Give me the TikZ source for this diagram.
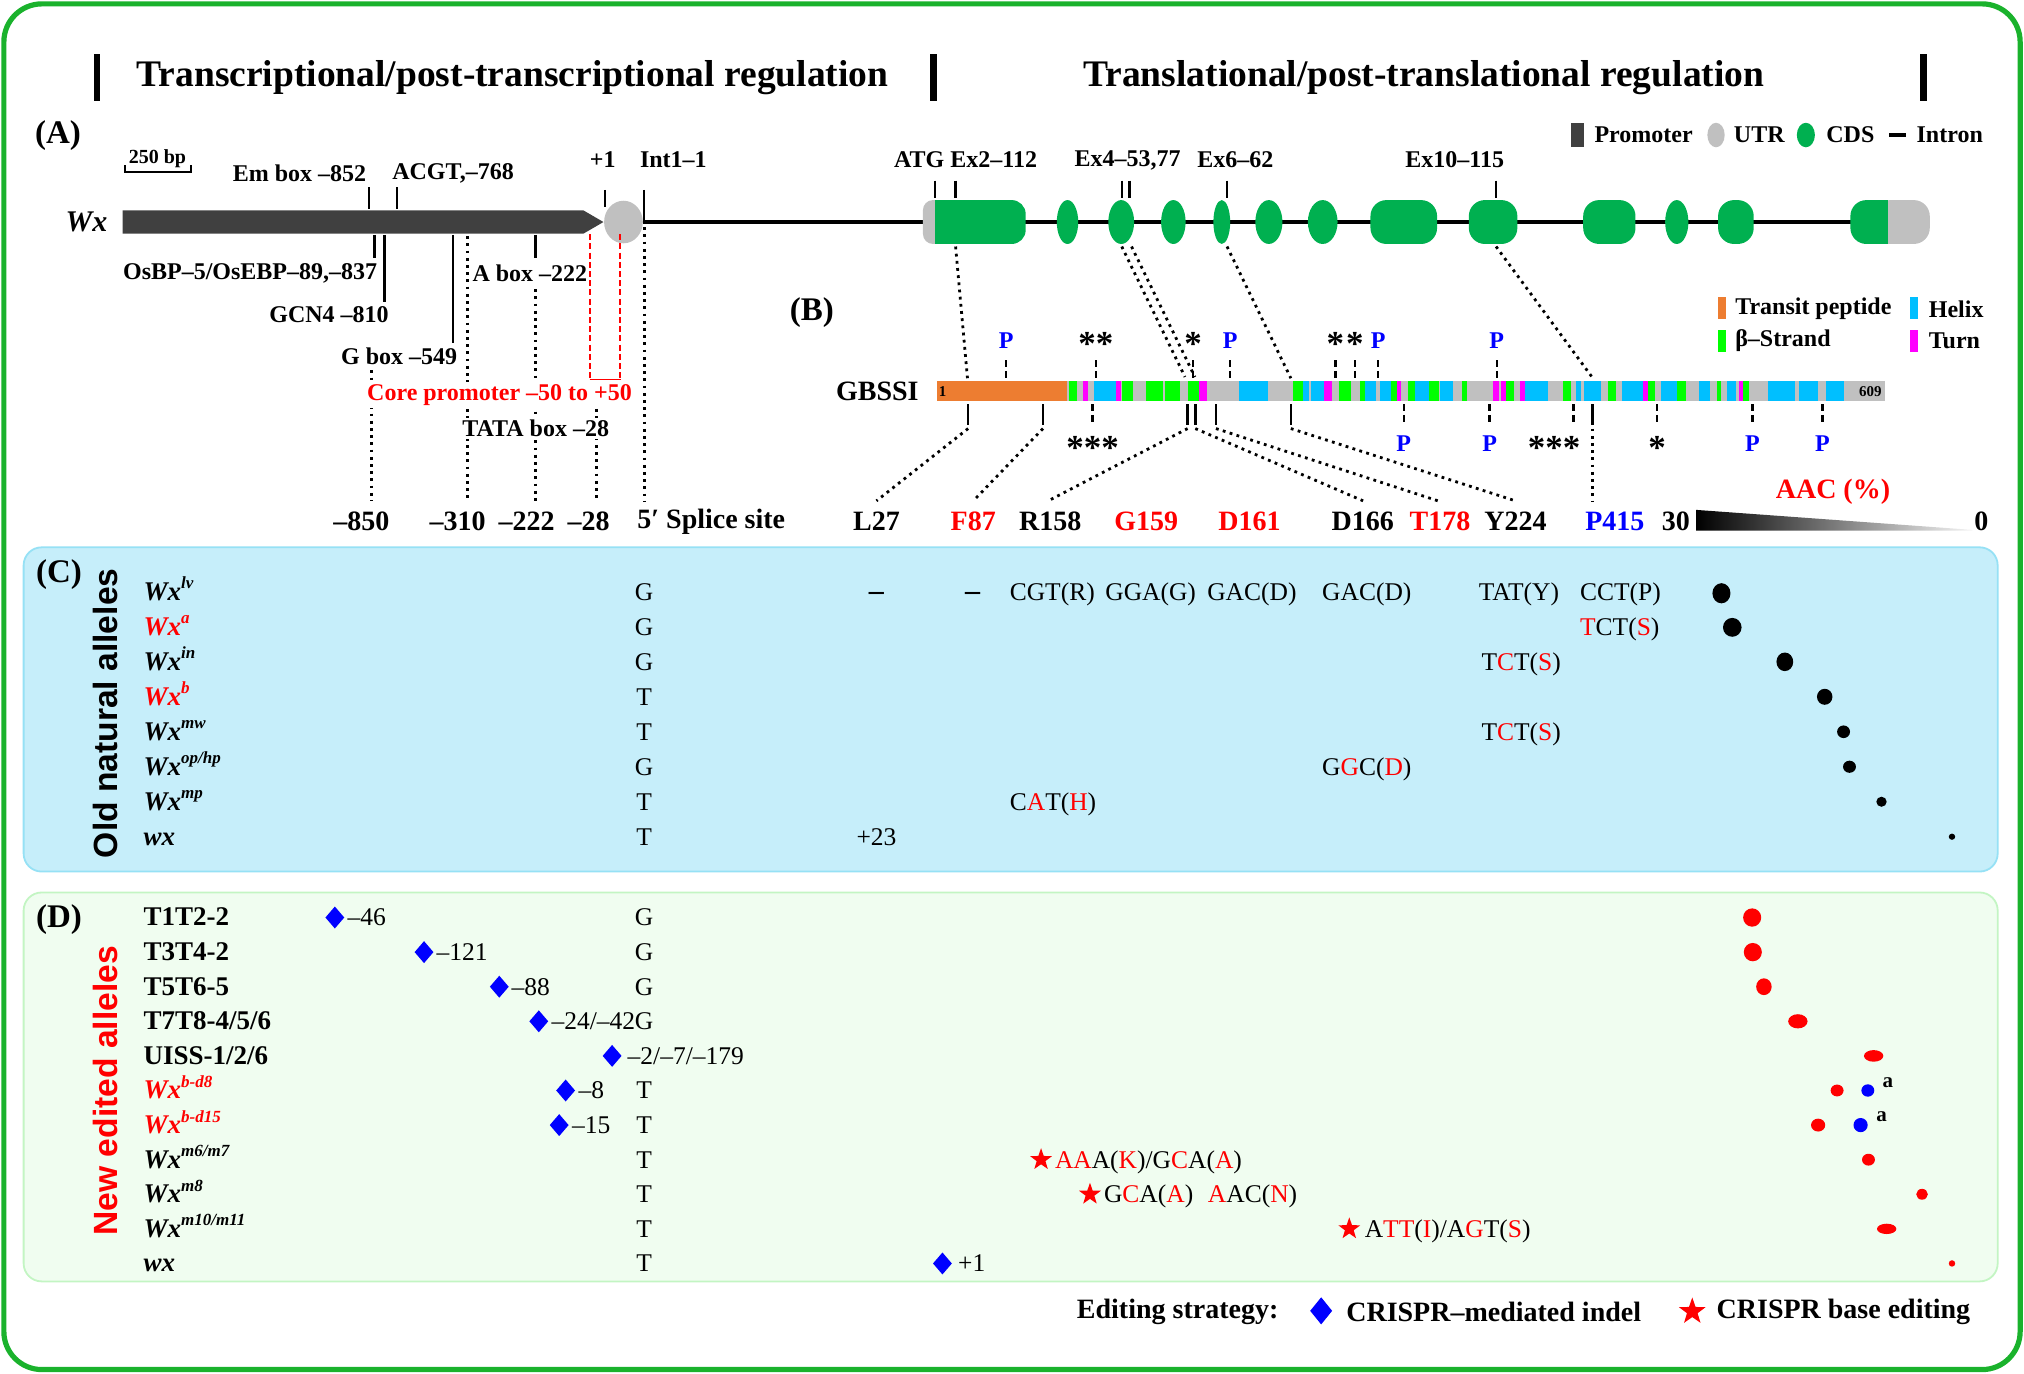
\documentclass[tikz,border=0pt]{standalone}
\usepackage{fontspec}
\setmainfont{Liberation Serif}
\newfontfamily\sansfam{Liberation Sans}
\usetikzlibrary{shapes.geometric}
\newcommand\myfs[1]{\fontsize{#1pt}{#1pt}\selectfont}
\definecolor{cds}{RGB}{0,176,80}
\definecolor{utr}{RGB}{192,192,192}
\definecolor{prom}{RGB}{64,64,64}
\definecolor{tp}{RGB}{237,125,49}
\definecolor{hx}{RGB}{0,191,255}
\definecolor{bs}{RGB}{0,255,0}
\definecolor{tn}{RGB}{255,0,255}
\definecolor{frame}{RGB}{26,178,44}
\definecolor{cbg}{RGB}{198,238,250}
\definecolor{cbd}{RGB}{150,225,245}
\definecolor{dbg}{RGB}{240,253,240}
\definecolor{dbd}{RGB}{195,245,195}
\definecolor{myred}{RGB}{255,0,0}
\definecolor{myblue}{RGB}{0,0,255}
\newcommand\rd[1]{\textcolor{myred}{#1}}
\newcommand\supx[1]{\raisebox{0.42em}{\myfs{8.5}\itshape #1}}
\newcommand\dia[2]{\fill[myblue] (#1,#2-8.5) -- (#1+7.3,#2) -- (#1,#2+8.5) -- (#1-7.3,#2) -- cycle;}
\newcommand\bigdia[2]{\fill[myblue] (#1,#2-10.5) -- (#1+8.5,#2) -- (#1,#2+10.5) -- (#1-8.5,#2) -- cycle;}
\begin{document}
\begin{tikzpicture}[x=0.6455pt,y=-0.6455pt,
  lab/.style={font=\bfseries\myfs{12},inner sep=1pt},
  bot/.style={font=\bfseries\myfs{14},inner sep=1pt},
  panel/.style={font=\bfseries\myfs{16.5},inner sep=0pt},
  pl/.style={font=\bfseries\myfs{12},text=myblue,inner sep=0pt},
  ast/.style={font=\bfseries\myfs{17.5},anchor=north,inner sep=0pt},
  nm/.style={font=\bfseries\myfs{13.5},anchor=base west,inner sep=0pt},
  cod/.style={font=\myfs{12.75},anchor=base west,inner sep=0pt},
  gt/.style={font=\myfs{12.75},anchor=base,inner sep=0pt},
  leg/.style={font=\bfseries\myfs{12},anchor=west,inner sep=0pt},
  tick/.style={line width=1.2pt},
  dtick/.style={line width=1.2pt,dash pattern=on 3.6pt off 1.8pt},
  dots/.style={line width=1.4pt,dash pattern=on 1.4pt off 2.2pt},
  rstar/.style={star,star points=5,star point ratio=2.5,fill=myred,inner sep=0pt,minimum size=11.5pt}]
\useasboundingbox (0,0) rectangle (1568,1064);
% outer frame
\draw[frame,line width=2.6pt,rounded corners=19pt] (3,3) rectangle (1565,1061);
% header
\foreach \x in {75,723,1490} \fill (\x-2.5,42) rectangle (\x+2.5,78);
\node[font=\bfseries\myfs{18.75}] (t1) at (397,60) {Transcriptional/post-transcriptional regulation};
\node[font=\bfseries\myfs{18.75}] (t2) at (1103,60) {Translational/post-translational regulation};
% panel labels
\node[panel] (pA) at (45,105) {(A)};
\node[panel] (pB) at (629,242) {(B)};
% scale bar
\node[font=\bfseries\myfs{10},inner sep=0pt] (sb) at (122,123) {250 bp};
\draw[line width=1pt] (97,128) -- (97,133) -- (148,133) -- (148,128);
% legend A
\fill[prom] (1217,95.5) rectangle (1227,113.6);
\node[leg] (lp) at (1235,104.6) {Promoter};
\fill[utr] (1329.4,104.6) ellipse [x radius=6.7, y radius=9.5];
\node[leg] (lu) at (1343,104.6) {UTR};
\fill[cds] (1399,104.6) ellipse [x radius=7, y radius=9.5];
\node[leg] (lc) at (1414.6,104.6) {CDS};
\draw[line width=2pt] (1463.5,104.6) -- (1476.8,104.6);
\node[leg] (li) at (1484.5,104.6) {Intron};
% gene model
\node[font=\bfseries\itshape\myfs{15},inner sep=0pt] (wx) at (67,172) {Wx};
\draw[line width=2pt] (498,172) -- (1440,172);
\fill[prom] (95,163) -- (452,163) -- (467.5,172) -- (452,181) -- (95,181) -- cycle;
\fill[utr] (483,172) ellipse [x radius=15, y radius=16.5];
\fill[utr,rounded corners=5pt] (715,155) rectangle (732,189);
\fill[cds,rounded corners=7pt] (724.4,155) rectangle (794.6,189);
\fill[cds] (724.4,155) rectangle (740,189);
\foreach \c/\r in {827/8.3, 868.6/10, 909/9.5, 946.5/6.5, 983/10.5, 1024.7/11.5, 1299/9}
  \fill[cds] (\c,172) ellipse [x radius=\r, y radius=17];
\fill[cds,rounded corners=8pt] (1061.7,155) rectangle (1113.3,189);
\fill[cds,rounded corners=8pt] (1137.9,155) rectangle (1175.5,189);
\fill[cds,rounded corners=8pt] (1226.5,155) rectangle (1267,189);
\fill[cds,rounded corners=8pt] (1331,155) rectangle (1358.6,189);
\fill[utr,rounded corners=8pt] (1452,155) rectangle (1495,189);
\fill[cds,rounded corners=8pt] (1433.5,155) rectangle (1462.5,189);
\fill[cds] (1448,155) rectangle (1462.5,189);
% ticks above gene
\foreach \x/\a/\b in {286/145/162, 307.5/145/162, 468.6/147/160, 499/147/172, 724.4/140/153, 740.3/140/153, 869/140/153, 875/140/153, 950.6/140/153, 1158.9/140/153}
  \draw[tick] (\x,\a) -- (\x,\b);
\node[lab] (em) at (232,134) {Em box –852};
\node[lab] (acgt) at (351,134) {ACGT,–768};
\node[lab] (plus1) at (467,124) {+1};
\node[lab,anchor=west] (int) at (494,124) {Int1–1};
\node[lab] (atg) at (748,124) {ATG Ex2–112};
\node[lab] (ex4) at (873.5,124) {Ex4–53,77};
\node[lab] (ex6) at (957,124) {Ex6–62};
\node[lab] (ex10) at (1127,124) {Ex10–115};
% ticks below promoter
\draw[tick] (290,182) -- (290,200);
\draw[tick] (298,182) -- (298,234);
\draw[tick] (351,182) -- (351,266);
\draw[tick] (415,182) -- (415,200);
% dotted promoter guides
\draw[dots] (287.7,287) -- (287.7,388);
\draw[dots] (362.4,183) -- (362.4,388);
\draw[dots] (415,224) -- (415,388);
\draw[dots] (462,300) -- (462,388);
\draw[dots] (499,176) -- (499,388);
% promoter labels
\node[lab,anchor=east] (osbp) at (294,212) {OsBP–5/OsEBP–89,–837};
\node[lab,anchor=east] (gcn) at (303,244) {GCN4 –810};
\node[lab,anchor=east] (gbox) at (356,276) {G box –549};
\node[lab,anchor=west,fill=white,inner sep=0.5pt] (abox) at (365,212) {A box –222};
\node[lab,text=myred,fill=white] (core) at (387,306) {Core promoter –50 to +50};
\node[lab,fill=white] (tata) at (415,332) {TATA box –28};
\draw[myred,line width=0.9pt,dash pattern=on 3pt off 1.6pt] (457,181.5) -- (457,294);
\draw[myred,line width=0.9pt,dash pattern=on 3pt off 1.6pt] (480.6,181.5) -- (480.6,294);
\draw[myred,line width=0.9pt] (456.7,294) -- (480.9,294);
\node[bot] (m850) at (280,404) {–850};
\node[bot] (m310) at (354.5,404) {–310};
\node[bot] (m222) at (408,404) {–222};
\node[bot] (m28) at (456,404) {–28};
\node[bot] (spl) at (551,404) {5′ Splice site};
% legend B
\fill[tp] (1331,230) rectangle (1337,247);
\node[leg] (ltp) at (1344,239.4) {Transit peptide};
\fill[hx] (1480,230) rectangle (1486,247);
\node[leg] (lhx) at (1494,239.4) {Helix};
\fill[bs] (1331,255.6) rectangle (1337,273);
\node[leg] (lbs) at (1344,264) {β–Strand};
\fill[tn] (1480,255.6) rectangle (1486,273);
\node[leg] (ltn) at (1494,264) {Turn};
% GBSSI bar
\node[bot] (gbssi) at (679.7,303) {GBSSI};
\fill[utr] (725.5,295) rectangle (1460,311);
\foreach \a/\b/\c in {725.5/826.8/tp, 828.3/834/bs, 839.2/843.1/tn, 847.7/864.2/hx, 864.2/868.1/tn,
  869.4/877.9/bs, 887.7/901.1/bs, 902.7/914/bs, 920/929/bs, 929/934.7/tn, 959.5/982/hx,
  1001.8/1009.6/bs, 1009.6/1014/hx, 1015.5/1025.6/hx, 1025.6/1031.8/tn, 1037.5/1046.8/bs,
  1053.5/1057.4/bs, 1057.4/1065.9/hx, 1069/1077.5/hx, 1077.5/1081.9/bs, 1081.9/1085.5/tn,
  1090.9/1096/bs, 1096/1107.1/hx, 1107.1/1114.9/bs, 1115.9/1125.7/hx, 1132.7/1136.8/bs,
  1156.7/1161.3/tn, 1162.6/1166.5/tn, 1167/1172.7/bs, 1177.4/1181.2/tn, 1181.2/1199.3/hx,
  1210.9/1217.4/bs, 1221.2/1225.1/hx, 1226.9/1240.1/hx, 1245.8/1252.2/bs, 1256.9/1272.9/hx,
  1272.9/1276.8/tn, 1276.8/1281.9/bs, 1286.6/1299.2/hx, 1299.2/1305.9/bs, 1316.3/1325/hx,
  1330.2/1333.6/bs, 1338.2/1345.2/hx, 1347/1350.3/tn, 1350.3/1355/bs, 1369.7/1390.4/hx,
  1393.7/1408.4/hx, 1414.4/1428.6/hx}
  \fill[\c] (\a,295) rectangle (\b,311);
\node[font=\bfseries\myfs{7.5},anchor=west,inner sep=0pt] (one) at (727,303.5) {1};
\node[font=\bfseries\myfs{7.5},anchor=east,inner sep=0pt] (n609) at (1458,303.5) {609};
% ticks on bar
\foreach \x in {779.5,849,924.4,953,1034.6,1049.6,1067.7,1159.5} \draw[dtick] (\x,279) -- (\x,293.5);
\foreach \x in {846.5,1087.5,1154,1219,1283.7,1357.6,1411.8} \draw[dtick] (\x,313) -- (\x,328);
\foreach \x in {750,808,920,926,942,1000,1233.6} \draw[tick] (\x,313) -- (\x,329);
\foreach \x [count=\i] in {779.5,953,1067.7,1159.5} \node[pl] (pu\i) at (\x,264) {P};
\foreach \x [count=\i] in {1087.5,1154,1357.6,1411.8} \node[pl] (pd\i) at (\x,344) {P};
\node[ast] (a1) at (849,257.5) {**};
\node[ast] (a2) at (924.4,257.5) {*};
\node[ast] (a3) at (1034.6,257.5) {*};
\node[ast] (a4) at (1049.6,257.5) {*};
\node[ast] (a5) at (846.5,338) {***};
\node[ast] (a6) at (1204,338) {***};
\node[ast] (a7) at (1283.7,338) {*};
% dotted connections exon -> protein -> residues
\draw[dots] (740.3,191) -- (749.5,293);
\draw[dots] (869,191) -- (918,292);
\draw[dots] (876.6,191) -- (925.7,292);
\draw[dots] (950.6,191) -- (1000,293);
\draw[dots] (1159,191) -- (1234,293);
\draw[dots] (750,332) -- (679,388);
\draw[dots] (808,332) -- (754,388);
\draw[dots] (920,332) -- (812,388);
\draw[dots] (926,332) -- (1056,388);
\draw[dots] (942,332) -- (1114,388);
\draw[dots] (1000,332) -- (1174,388);
\draw[dots] (1234,332) -- (1234,388);
\node[bot] (l27) at (679,404) {L27};
\node[bot,text=myred] (f87) at (754,404) {F87};
\node[bot] (r158) at (813.7,404) {R158};
\node[bot,text=myred] (g159) at (888,404) {G159};
\node[bot,text=myred] (d161) at (968,404) {D161};
\node[bot] (d166) at (1055.7,404) {D166};
\node[bot,text=myred] (t178) at (1115.6,404) {T178};
\node[bot] (y224) at (1174,404) {Y224};
\node[bot,text=myblue] (p415) at (1251,404) {P415};
% AAC scale
\node[bot,text=myred] (aac) at (1420,381) {AAC (\%)};
\node[bot,anchor=east] (s30) at (1311,404) {30};
\shade[left color=black,right color=gray!8] (1314,395) -- (1528,410.5) -- (1528,411) -- (1314,411) -- cycle;
\node[bot] (s0) at (1535,404) {0};
% panel C
\draw[cbd,fill=cbg,line width=0.9pt,rounded corners=9pt] (18.3,424) rectangle (1547.6,675.2);
\node[panel] (pC) at (45.7,445) {(C)};
\node[rotate=90,font=\sansfam\bfseries\myfs{16.8},inner sep=0pt] (old) at (81.5,552.6) {Old natural alleles};
\node[nm] (c1) at (111,465) {\textit{Wx}\supx{lv}};
\node[nm,text=myred] (c2) at (111,492.1) {\textit{Wx}\supx{a}};
\node[nm] (c3) at (111,519.2) {\textit{Wx}\supx{in}};
\node[nm,text=myred] (c4) at (111,546.3) {\textit{Wx}\supx{b}};
\node[nm] (c5) at (111,573.4) {\textit{Wx}\supx{mw}};
\node[nm] (c6) at (111,600.5) {\textit{Wx}\supx{op/hp}};
\node[nm] (c7) at (111,627.6) {\textit{Wx}\supx{mp}};
\node[nm] (c8) at (111,654.7) {\textit{wx}};
\foreach \y/\t [count=\i] in {465/G,492.1/G,519.2/G,546.3/T,573.4/T,600.5/G,627.6/T,654.7/T}
  \node[gt] (cg\i) at (499,\y) {\t};
\node[font=\bfseries\myfs{15},anchor=base,inner sep=0pt] (dash1) at (679,465) {–};
\node[font=\bfseries\myfs{15},anchor=base,inner sep=0pt] (dash2) at (753.4,465) {–};
\node[cod] (k1) at (782,465) {CGT(R)};
\node[cod] (k2) at (856,465) {GGA(G)};
\node[cod] (k3) at (935,465) {GAC(D)};
\node[cod] (k4) at (1024,465) {GAC(D)};
\node[cod] (k5) at (1145.4,465) {TAT(Y)};
\node[cod] (k6) at (1223.8,465) {CCT(P)};
\node[cod] (k7) at (1223.8,492.1) {\rd{T}CT(\rd{S})};
\node[cod] (k8) at (1147.4,519.2) {T\rd{C}T(\rd{S})};
\node[cod] (k9) at (1147.4,573.4) {T\rd{C}T(\rd{S})};
\node[cod] (k10) at (1024,600.5) {G\rd{G}C(\rd{D})};
\node[cod] (k11) at (782,627.6) {C\rd{A}T(\rd{H})};
\node[gt] (k12) at (679,654.7) {+23};
\foreach \x/\y/\rx/\ry in {1333.6/459.6/7/7.8, 1342/486/7.2/7.3, 1382.7/512.7/6.5/7.2, 1413.6/539.8/6/6.2,
  1428.2/566.9/5/4.9, 1432.8/594/5/4.7, 1457.6/621.1/4/3.9, 1512.2/648.2/2.5/2.4}
  \fill[black] (\x,\y) ellipse [x radius=\rx, y radius=\ry];
% panel D
\draw[dbd,fill=dbg,line width=0.9pt,rounded corners=9pt] (18.3,691.4) rectangle (1547.6,992.7);
\node[panel] (pD) at (45.7,712.6) {(D)};
\node[rotate=90,font=\sansfam\bfseries\myfs{16.8},text=myred,inner sep=0pt] (new) at (81.5,845) {New edited alleles};
\node[nm] (d1) at (111,717.3) {T1T2-2};
\node[nm] (d2) at (111,744.1) {T3T4-2};
\node[nm] (d3) at (111,770.9) {T5T6-5};
\node[nm] (d4) at (111,797.7) {T7T8-4/5/6};
\node[nm] (d5) at (111,824.5) {UISS-1/2/6};
\node[nm,text=myred] (d6) at (111,851.3) {\textit{Wx}\supx{b-d8}};
\node[nm,text=myred] (d7) at (111,878.1) {\textit{Wx}\supx{b-d15}};
\node[nm] (d8) at (111,904.9) {\textit{Wx}\supx{m6/m7}};
\node[nm] (d9) at (111,931.7) {\textit{Wx}\supx{m8}};
\node[nm] (d10) at (111,958.5) {\textit{Wx}\supx{m10/m11}};
\node[nm] (d11) at (111,985.3) {\textit{wx}};
\foreach \y/\t [count=\i] in {717.3/G,744.1/G,770.9/G,797.7/G,851.3/T,878.1/T,904.9/T,931.7/T,958.5/T,985.3/T}
  \node[gt] (dg\i) at (499,\y) {\t};
\dia{259.4}{710.8} \node[cod] (e1) at (269,717.3) {–46};
\dia{328.5}{737.6} \node[cod] (e2) at (338,744.1) {–121};
\dia{386.8}{764.4} \node[cod] (e3) at (396,770.9) {–88};
\dia{417.4}{791.2} \node[cod] (e4) at (427,797.7) {–24/–42};
\dia{474.2}{818} \node[cod] (e5) at (486,824.5) {–2/–7/–179};
\dia{438.2}{844.8} \node[cod] (e6) at (448,851.3) {–8};
\dia{433.2}{871.6} \node[cod] (e7) at (443,878.1) {–15};
\dia{730.1}{978.8} \node[cod] (e8) at (742,985.3) {+1};
\node[rstar] (s1) at (806.5,898.4) {};
\node[cod] (f1) at (817,904.9) {\rd{AA}A(\rd{K})/G\rd{C}A(\rd{A})};
\node[rstar] (s2) at (844.4,925.2) {};
\node[cod] (f2) at (855,931.7) {G\rd{C}A(\rd{A})};
\node[cod] (f3) at (935.5,931.7) {\rd{A}AC(\rd{N})};
\node[rstar] (s3) at (1045.3,952) {};
\node[cod] (f4) at (1057,958.5) {A\rd{TT}(\rd{I})/A\rd{G}T(\rd{S})};
\foreach \x/\y/\rx/\ry in {1357.4/710.8/7/7.1, 1357.9/737.6/7/7.1, 1366.5/764.4/6/6.5, 1392.8/791.2/7.5/5.5,
  1451.5/818/7.5/4.5, 1423.2/844.8/5/4.6, 1408.5/871.6/5.5/5, 1447.5/898.4/5/4.6, 1489/925.2/4.5/4.2,
  1461.6/952/7.5/4, 1512.2/978.8/2.5/2.5}
  \fill[myred] (\x,\y) ellipse [x radius=\rx, y radius=\ry];
\fill[myblue] (1447,844.8) ellipse [x radius=5, y radius=4.8];
\fill[myblue] (1441.4,871.6) ellipse [x radius=5.5, y radius=5.5];
\node[font=\bfseries\myfs{10.5},inner sep=0pt] (ta1) at (1462.6,839) {a};
\node[font=\bfseries\myfs{10.5},inner sep=0pt] (ta2) at (1457.6,865.4) {a};
% editing legend
\node[font=\bfseries\myfs{14},anchor=west,inner sep=0pt] (es) at (834,1016) {Editing strategy:};
\bigdia{1023.5}{1015.5}
\node[font=\bfseries\myfs{14},anchor=west,inner sep=0pt] (ind) at (1042.7,1016) {CRISPR–mediated indel};
\node[rstar,minimum size=14pt] (s4) at (1311,1016) {};
\node[font=\bfseries\myfs{14},anchor=west,inner sep=0pt] (bed) at (1329.6,1016) {CRISPR base editing};
\end{tikzpicture}
\end{document}
